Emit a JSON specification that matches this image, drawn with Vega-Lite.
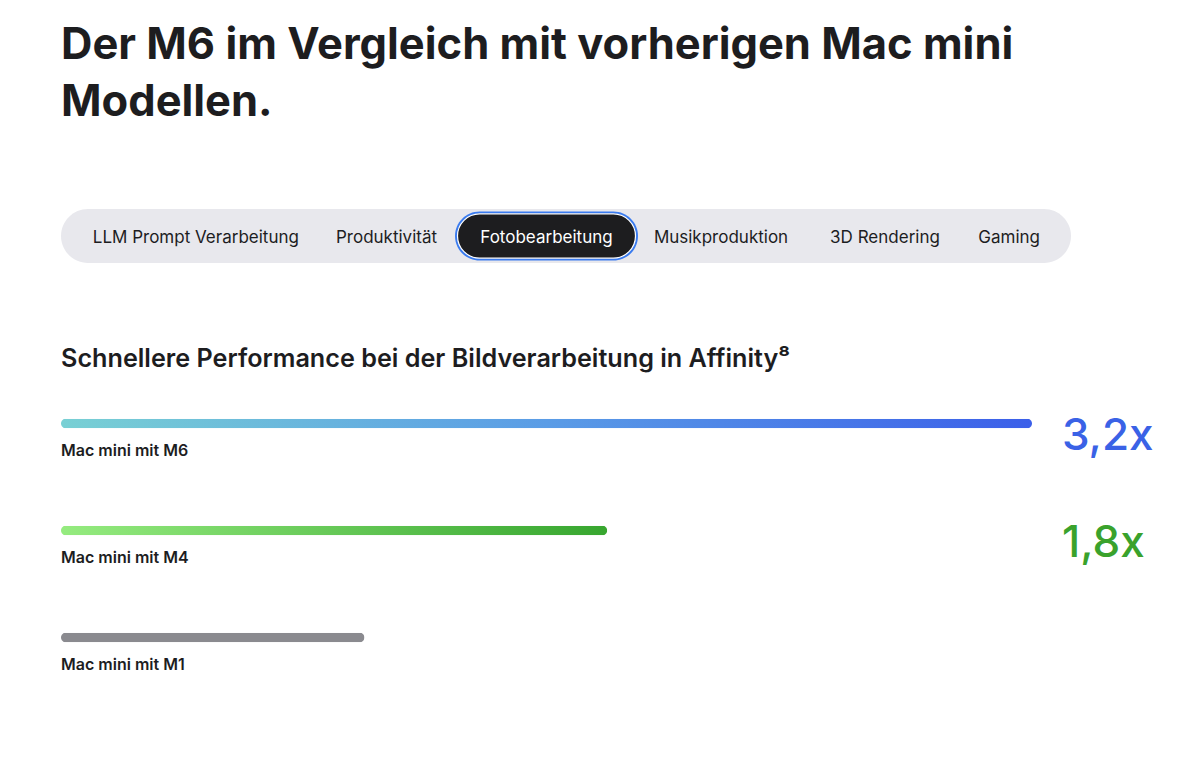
{
  "$schema": "https://vega.github.io/schema/vega-lite/v6.json",
  "background": "#ffffff",
  "autosize": {"type": "pad"},
  "padding": {"left": 61, "top": 23, "right": 0, "bottom": 0},
  "config": {"view": {"stroke": null}, "font": "Inter", "text": {"font": "Inter"}},
  "title": {
    "text": ["Der M6 im Vergleich mit vorherigen Mac mini", "Modellen."],
    "anchor": "start",
    "baseline": "top",
    "font": "Inter",
    "fontSize": 43.5,
    "fontWeight": "bold",
    "lineHeight": 57,
    "color": "#1d1d1f",
    "offset": 84
  },
  "spacing": 84,
  "vconcat": [
    {
      "width": 1010,
      "height": 54,
      "view": {"fill": "#e8e8ed", "cornerRadius": 27, "stroke": null},
      "data": {"values": [
        {"tab": "LLM Prompt Verarbeitung", "i": 0, "selected": false},
        {"tab": "Produktivität", "i": 1, "selected": false},
        {"tab": "Fotobearbeitung", "i": 2, "selected": true},
        {"tab": "Musikproduktion", "i": 3, "selected": false},
        {"tab": "3D Rendering", "i": 4, "selected": false},
        {"tab": "Gaming", "i": 5, "selected": false}
      ]},
      "encoding": {
        "x": {"field": "i", "type": "quantitative", "axis": null,
              "scale": {"domain": [0, 1, 2, 3, 4, 5], "range": [129, 325.5, 485.5, 660, 824, 952], "nice": false, "zero": false}}
      },
      "layer": [
        {
          "transform": [{"filter": "datum.selected"}],
          "mark": {"type": "bar", "orient": "vertical", "width": 183, "cornerRadius": 25, "color": "#3a7bef"},
          "encoding": {
            "y": {"datum": 0.045, "type": "quantitative", "axis": null, "scale": {"domain": [0, 1], "nice": false}},
            "y2": {"datum": 0.955}
          }
        },
        {
          "transform": [{"filter": "datum.selected"}],
          "mark": {"type": "bar", "orient": "vertical", "width": 178, "cornerRadius": 23, "color": "#1d1d1f", "stroke": "#ffffff", "strokeWidth": 1.2},
          "encoding": {
            "y": {"datum": 0.09, "type": "quantitative"},
            "y2": {"datum": 0.91}
          }
        },
        {
          "mark": {"type": "text", "fontSize": 17, "font": "Inter", "baseline": "middle", "align": "center", "dy": 1.5},
          "encoding": {
            "text": {"field": "tab"},
            "y": {"datum": 0.5, "type": "quantitative"},
            "color": {"condition": {"test": "datum.selected", "value": "#ffffff"}, "value": "#1d1d1f"}
          }
        }
      ]
    },
    {
      "width": 971,
      "height": 321,
      "title": {
        "text": "Schnellere Performance bei der Bildverarbeitung in Affinity⁸",
        "anchor": "start",
        "baseline": "alphabetic",
        "font": "Inter",
        "fontSize": 25.2,
        "fontWeight": 600,
        "color": "#1d1d1f",
        "offset": -22.5
      },
      "data": {"values": [
        {"model": "Mac mini mit M6", "value": 3.2, "label": "3,2x"},
        {"model": "Mac mini mit M4", "value": 1.8, "label": "1,8x"},
        {"model": "Mac mini mit M1", "value": 1.0, "label": ""}
      ]},
      "encoding": {
        "y": {"field": "model", "type": "nominal", "axis": null,
              "sort": ["Mac mini mit M6", "Mac mini mit M4", "Mac mini mit M1"],
              "scale": {"paddingInner": 0, "paddingOuter": 0}}
      },
      "layer": [
        {
          "transform": [{"filter": "datum.model === 'Mac mini mit M6'"}],
          "mark": {"type": "bar", "height": 9.5, "cornerRadius": 4.75,
                   "color": {"gradient": "linear", "x1": 0, "x2": 1, "y1": 0, "y2": 0,
                             "stops": [{"offset": 0, "color": "#78d0d4"}, {"offset": 0.5, "color": "#5a9ce6"}, {"offset": 1, "color": "#3b5fe9"}]}},
          "encoding": {
            "x": {"field": "value", "type": "quantitative", "axis": null, "scale": {"domain": [0, 3.2], "nice": false, "zero": true}}
          }
        },
        {
          "transform": [{"filter": "datum.model === 'Mac mini mit M4'"}],
          "mark": {"type": "bar", "height": 9.5, "cornerRadius": 4.75,
                   "color": {"gradient": "linear", "x1": 0, "x2": 1, "y1": 0, "y2": 0,
                             "stops": [{"offset": 0, "color": "#95eb7f"}, {"offset": 1, "color": "#37a62f"}]}},
          "encoding": {
            "x": {"field": "value", "type": "quantitative"}
          }
        },
        {
          "transform": [{"filter": "datum.model === 'Mac mini mit M1'"}],
          "mark": {"type": "bar", "height": 9.5, "cornerRadius": 4.75, "color": "#8a8a8f"},
          "encoding": {
            "x": {"field": "value", "type": "quantitative"}
          }
        },
        {
          "mark": {"type": "text", "align": "left", "baseline": "middle", "dy": 27, "fontSize": 16, "fontWeight": 600, "font": "Inter", "color": "#1d1d1f"},
          "encoding": {
            "x": {"datum": 0, "type": "quantitative"},
            "text": {"field": "model"}
          }
        },
        {
          "mark": {"type": "text", "align": "left", "baseline": "middle", "dx": 30, "dy": 13, "fontSize": 44, "fontWeight": 500, "font": "Inter"},
          "encoding": {
            "x": {"value": "width"},
            "text": {"field": "label"},
            "color": {"field": "model", "type": "nominal", "legend": null,
                      "scale": {"domain": ["Mac mini mit M6", "Mac mini mit M4", "Mac mini mit M1"], "range": ["#3a62e6", "#3aa22c", "#8a8a8f"]}}
          }
        }
      ]
    }
  ]
}
